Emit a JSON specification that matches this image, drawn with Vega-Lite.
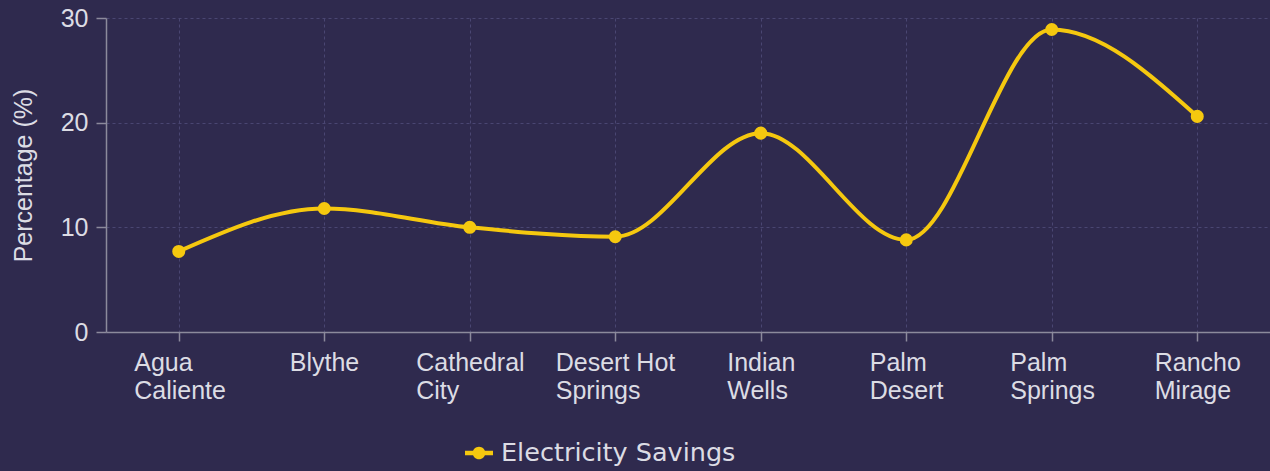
{
  "$schema": "https://vega.github.io/schema/vega-lite/v6.json",
  "width": 1164,
  "height": 314,
  "autosize": {"type": "none"},
  "padding": {"left": 106, "top": 18, "right": 0, "bottom": 139},
  "background": "#2f2a4e",
  "config": {
    "view": {"stroke": null},
    "font": "Liberation Sans",
    "axis": {
      "labelColor": "#dcdce4",
      "titleColor": "#dcdce4",
      "labelFont": "Liberation Sans",
      "titleFont": "Liberation Sans",
      "domainColor": "#8c8a9c",
      "tickColor": "#8c8a9c",
      "gridColor": "#4a4672",
      "gridDash": [3, 3],
      "gridWidth": 1,
      "domainWidth": 1.5,
      "tickWidth": 1.5
    }
  },
  "data": {
    "values": [
      {"city": "Agua Caliente", "value": 7.7, "series": "Electricity Savings"},
      {"city": "Blythe", "value": 11.8, "series": "Electricity Savings"},
      {"city": "Cathedral City", "value": 10.0, "series": "Electricity Savings"},
      {"city": "Desert Hot Springs", "value": 9.1, "series": "Electricity Savings"},
      {"city": "Indian Wells", "value": 19.0, "series": "Electricity Savings"},
      {"city": "Palm Desert", "value": 8.8, "series": "Electricity Savings"},
      {"city": "Palm Springs", "value": 28.9, "series": "Electricity Savings"},
      {"city": "Rancho Mirage", "value": 20.6, "series": "Electricity Savings"}
    ]
  },
  "encoding": {
    "x": {
      "field": "city",
      "type": "nominal",
      "sort": null,
      "scale": {"type": "point", "padding": 0.5},
      "axis": {
        "title": null,
        "labelAngle": 0,
        "labelAlign": "left",
        "labelFontSize": 25,
        "labelLineHeight": 28,
        "labelPadding": 9,
        "tickSize": 9,
        "grid": true,
        "labelExpr": "datum.value == 'Desert Hot Springs' ? ['Desert Hot', 'Springs'] : split(datum.value, ' ')",
        "labelOffset": {"expr": "datum.value == 'Agua Caliente' ? -45 : datum.value == 'Blythe' ? -35 : datum.value == 'Cathedral City' ? -54 : datum.value == 'Desert Hot Springs' ? -60 : datum.value == 'Indian Wells' ? -34 : datum.value == 'Palm Desert' ? -37 : datum.value == 'Palm Springs' ? -42 : -43"}
      }
    },
    "y": {
      "field": "value",
      "type": "quantitative",
      "scale": {"domain": [0, 30], "nice": false},
      "axis": {
        "title": "Percentage (%)",
        "values": [0, 10, 20, 30],
        "labelFontSize": 25,
        "titleFontSize": 25,
        "titleFontWeight": "normal",
        "labelPadding": 8,
        "tickSize": 10,
        "titlePadding": 24,
        "grid": true
      }
    }
  },
  "layer": [
    {
      "mark": {"type": "line", "interpolate": "monotone", "strokeWidth": 4, "color": "#f5c80f"},
      "encoding": {
        "color": {
          "field": "series",
          "type": "nominal",
          "scale": {"range": ["#f5c80f"]},
          "legend": {
            "title": null,
            "orient": "none",
            "legendX": 359,
            "legendY": 421,
            "labelFont": "DejaVu Sans",
            "labelFontSize": 25.5,
            "labelLimit": 0,
            "labelColor": "#dcdce4",
            "symbolType": "M-1,-0.16L1,-0.16L1,0.16L-1,0.16Z M-0.45,0A0.45,0.45 0 1,1 0.45,0A0.45,0.45 0 1,1 -0.45,0Z",
            "symbolSize": 784,
            "symbolFillColor": "#f5c80f",
            "symbolStrokeColor": "#f5c80f",
            "symbolStrokeWidth": 0,
            "labelOffset": 8
          }
        }
      }
    },
    {
      "mark": {"type": "point", "filled": true, "size": 170, "opacity": 1, "color": "#f5c80f"}
    }
  ]
}
